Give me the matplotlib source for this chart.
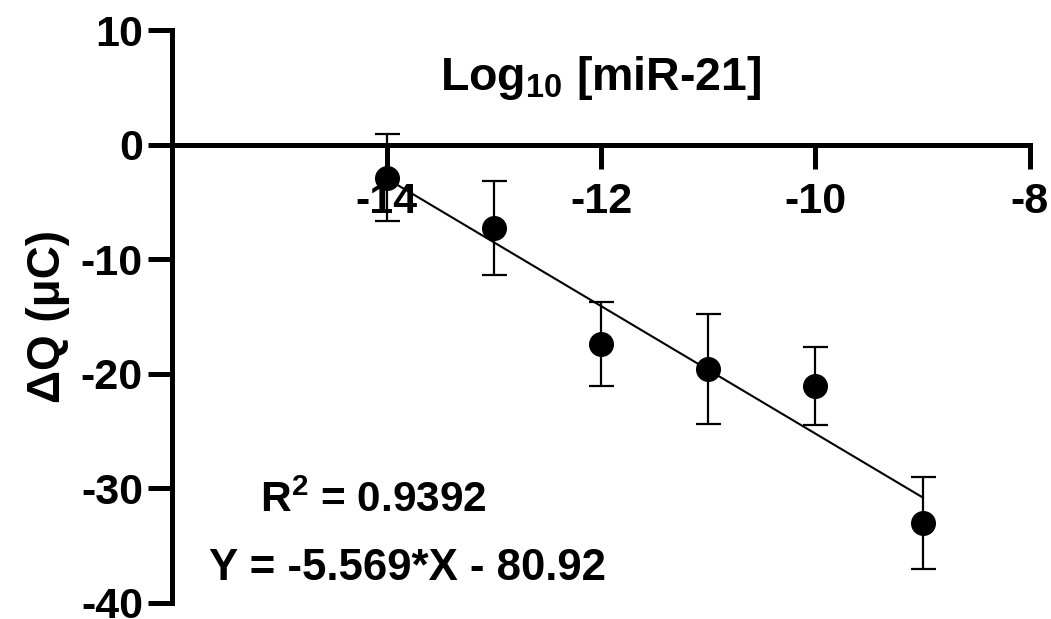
import numpy as np
import matplotlib
matplotlib.use('Agg')
import matplotlib.pyplot as plt

plt.rcParams['font.family'] = ['Liberation Sans', 'DejaVu Sans']
plt.rcParams['font.weight'] = 'bold'
plt.rcParams['axes.unicode_minus'] = False
plt.rcParams['mathtext.fontset'] = 'custom'
plt.rcParams['mathtext.rm'] = 'Liberation Sans:bold'
plt.rcParams['mathtext.bf'] = 'Liberation Sans:bold'
plt.rcParams['mathtext.default'] = 'bf'

# data
log_conc = [-14, -13, -12, -11, -10, -9]
dq = [-2.9, -7.3, -17.4, -19.6, -21.1, -33.0]
dq_err = [3.8, 4.1, 3.7, 4.8, 3.4, 4.0]
slope = -5.569
intercept = -80.92
r2 = 0.9392

fig = plt.figure(figsize=(10.51, 6.19), dpi=100)
ax = fig.add_axes([0.1637, 0.0260, 0.8163, 0.9255])

fit_x = np.array([log_conc[0], log_conc[-1]])
ax.plot(fit_x, slope * fit_x + intercept, color='black', lw=1.5, zorder=2)
ax.errorbar(log_conc, dq, yerr=dq_err, fmt='o', color='black', ms=17,
            elinewidth=1.6, capsize=9, capthick=1.6, zorder=3)

ax.set_xlim(-16, -8)
ax.set_ylim(-40, 10)
ax.set_xticks([-14, -12, -10, -8])
ax.set_yticks([-40, -30, -20, -10, 0, 10])

ax.spines['top'].set_visible(False)
ax.spines['right'].set_visible(False)
ax.spines['bottom'].set_position(('data', 0))
ax.spines['left'].set_linewidth(3.6)
ax.spines['bottom'].set_linewidth(3.6)
ax.tick_params(axis='both', width=3.6, length=17, labelsize=31, pad=4)
ax.tick_params(axis='x', pad=10)

ax.set_ylabel('ΔQ (μC)', fontsize=33, fontweight='bold', labelpad=8)
ax.text(-12.0, 5.8, 'Log$_{10}$ [miR-21]', fontsize=33.5, ha='center', va='center')
ax.text(-14.12, -31.1, 'R$^2$ = %.4f' % r2, fontsize=30.5, ha='center', va='center')
ax.text(-13.8, -37.0, 'Y = %.3f*X - %.2f' % (slope, -intercept), fontsize=31.5,
        ha='center', va='center')

fig.savefig('out.png', dpi=100)
